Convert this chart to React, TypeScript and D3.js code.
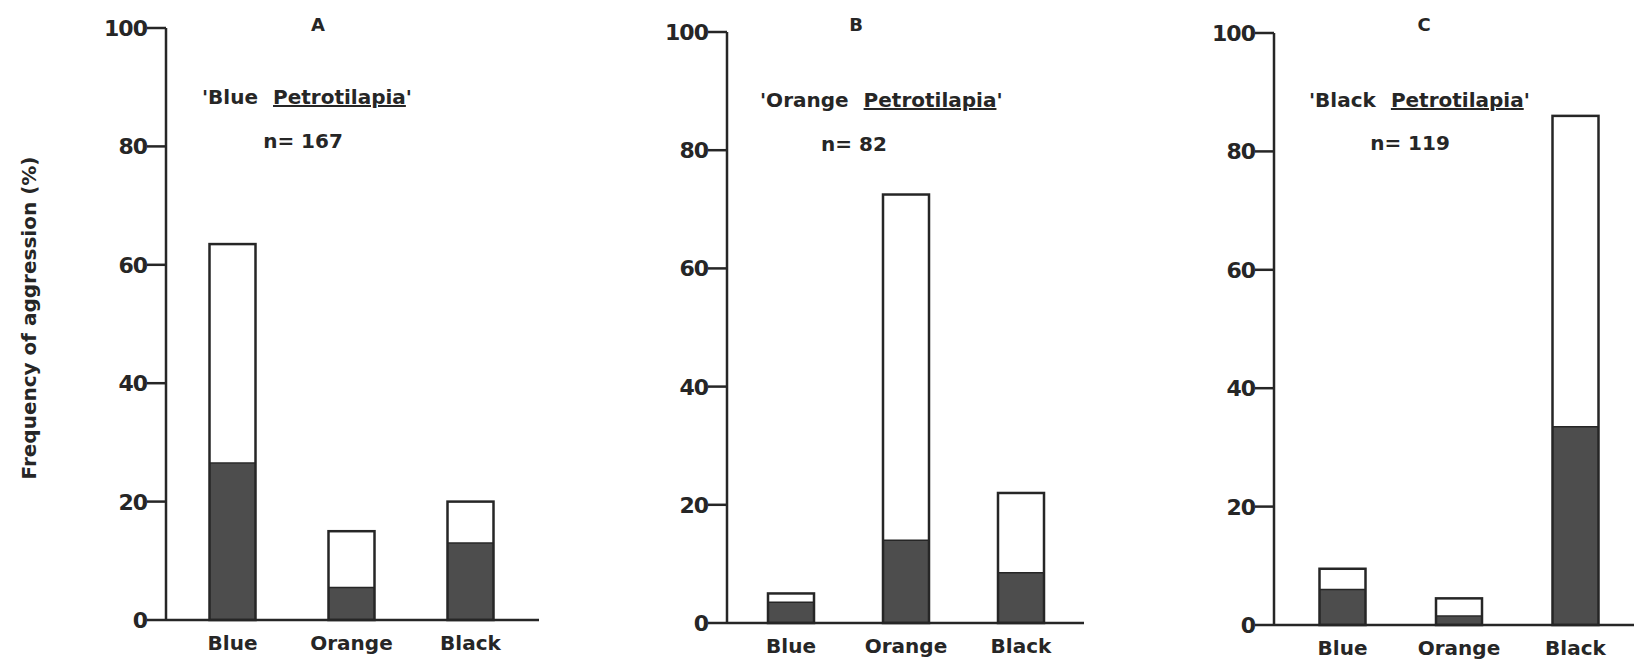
import React from "react";
import * as d3 from "d3";

// chart data
const categories = ["Blue", "Orange", "Black"];
const panelLetters = ["A", "B", "C"];
const panelFish = ["Blue", "Orange", "Black"];
const sampleSizes = [167, 82, 119];
const totalValues = [
  [63.5, 15, 20],
  [5, 72.5, 22],
  [9.5, 4.5, 86],
];
const darkValues = [
  [26.5, 5.5, 13],
  [3.5, 14, 8.5],
  [6, 1.5, 33.5],
];
const yTicks = [0, 20, 40, 60, 80, 100];

const W = 1634;
const H = 661;
const INK = "#262626";
const DARK = "#4d4d4d";
const FONT = '"DejaVu Sans", sans-serif';

// where each panel sits on the page
const layout = [
  { x0: 166, y0: 620, y100: 28, xEnd: 539, c0: 66.5, c1: 304.5, titleX: 318, subX: 202, subY: 104, nX: 303, nY: 148 },
  { x0: 727, y0: 623, y100: 32, xEnd: 1084, c0: 64, c1: 294, titleX: 856, subX: 760, subY: 107, nX: 854, nY: 151 },
  { x0: 1274, y0: 625, y100: 33, xEnd: 1634, c0: 68.5, c1: 301.5, titleX: 1424, subX: 1309, subY: 107, nX: 1410, nY: 150 },
];
const barW = 46;

const Panel = ({ i }: { i: number }) => {
  const L = layout[i];
  const y = d3.scaleLinear().domain([0, 100]).range([L.y0, L.y100]);
  const x = d3.scalePoint<string>().domain(categories).range([L.x0 + L.c0, L.x0 + L.c1]);

  return (
    <g>
      {/* bars */}
      {categories.map((c, j) => {
        const cx = x(c) as number;
        const tot = totalValues[i][j];
        const dk = darkValues[i][j];
        return (
          <g key={c}>
            <rect x={cx - barW / 2} y={y(dk)} width={barW} height={y(0) - y(dk)} fill={DARK} />
            <rect
              x={cx - barW / 2}
              y={y(tot)}
              width={barW}
              height={y(0) - y(tot)}
              fill="none"
              stroke={INK}
              strokeWidth={2.5}
            />
            <line x1={cx - barW / 2} x2={cx + barW / 2} y1={y(dk)} y2={y(dk)} stroke={INK} strokeWidth={1.5} />
            <text
              x={cx}
              y={L.y0 + 30}
              textAnchor="middle"
              fontFamily={FONT}
              fontWeight="bold"
              fontSize={20}
              fill={INK}
            >
              {c}
            </text>
          </g>
        );
      })}

      {/* axes */}
      <line x1={L.x0} x2={L.x0} y1={y(100)} y2={y(0)} stroke={INK} strokeWidth={2.5} />
      <line x1={L.x0} x2={L.xEnd} y1={y(0)} y2={y(0)} stroke={INK} strokeWidth={2.5} />
      {yTicks.map((t) => (
        <g key={t}>
          <line x1={L.x0 - 19} x2={L.x0} y1={y(t)} y2={y(t)} stroke={INK} strokeWidth={2.5} />
          <text
            x={L.x0 - 19}
            y={y(t)}
            dy="0.36em"
            textAnchor="end"
            fontFamily={FONT}
            fontWeight="bold"
            fontSize={22}
            letterSpacing={-1}
            fill={INK}
          >
            {t}
          </text>
        </g>
      ))}

      {/* labels */}
      <text x={L.titleX} y={31} textAnchor="middle" fontFamily={FONT} fontWeight="bold" fontSize={18} fill={INK}>
        {panelLetters[i]}
      </text>
      <text x={L.subX} y={L.subY} fontFamily={FONT} fontWeight="bold" fontSize={20} fill={INK}>
        <tspan>{"'" + panelFish[i]}</tspan>
        <tspan dx={15} textDecoration="underline">Petrotilapia</tspan>
        <tspan>'</tspan>
      </text>
      <text x={L.nX} y={L.nY} textAnchor="middle" fontFamily={FONT} fontWeight="bold" fontSize={20} fill={INK}>
        {"n= " + sampleSizes[i]}
      </text>
    </g>
  );
};

export default function App() {
  return (
    <svg
      width={W}
      height={H}
      style={{ position: "absolute", left: 0, top: 0, background: "#fff" }}
    >
      <rect width={W} height={H} fill="#fff" />
      <text
        transform="translate(36,318) rotate(-90)"
        textAnchor="middle"
        fontFamily={FONT}
        fontWeight="bold"
        fontSize={20}
        fill={INK}
      >
        Frequency of aggression (%)
      </text>
      {layout.map((_, i) => (
        <Panel key={i} i={i} />
      ))}
    </svg>
  );
}
